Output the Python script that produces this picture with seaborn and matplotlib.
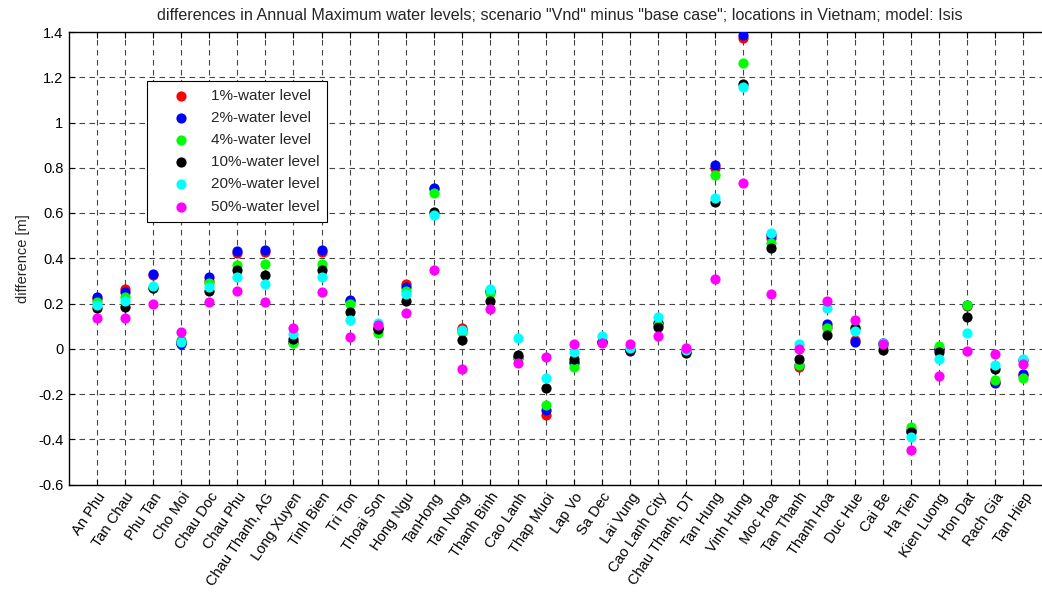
import numpy as np
import pandas as pd
import matplotlib
matplotlib.use("Agg")
import matplotlib.pyplot as plt
import seaborn as sns

locations = [
    "An Phu", "Tan Chau", "Phu Tan", "Cho Moi", "Chau Doc", "Chau Phu",
    "Chau Thanh, AG", "Long Xuyen", "Tinh Bien", "Tri Ton", "Thoai Son",
    "Hong Ngu", "TanHong", "Tan Nong", "Thanh Binh", "Cao Lanh", "Thap Muoi",
    "Lap Vo", "Sa Dec", "Lai Vung", "Cao Lanh City", "Chau Thanh, DT",
    "Tan Hung", "Vinh Hung", "Moc Hoa", "Tan Thanh", "Thanh Hoa", "Duc Hue",
    "Cai Be", "Ha Tien", "Kien Luong", "Hon Dat", "Rach Gia", "Tan Hiep",
]

level_1 = [0.220, 0.263, 0.325, 0.025, 0.300, 0.425, 0.426, 0.030, 0.426, 0.210,
           0.090, 0.285, 0.705, 0.090, 0.255, -0.040, -0.293, -0.065, 0.030, -0.005,
           0.115, -0.010, 0.800, 1.373, 0.491, -0.080, 0.095, 0.038, 0.025, -0.360,
           0.000, 0.190, -0.146, -0.118]
level_2 = [0.228, 0.250, 0.330, 0.019, 0.316, 0.432, 0.437, 0.030, 0.437, 0.215,
           0.090, 0.274, 0.710, 0.085, 0.255, -0.035, -0.271, -0.060, 0.030, -0.012,
           0.112, -0.012, 0.813, 1.388, 0.503, -0.070, 0.109, 0.028, 0.025, -0.365,
           -0.003, 0.195, -0.153, -0.113]
level_4 = [0.207, 0.227, 0.270, 0.038, 0.289, 0.369, 0.373, 0.027, 0.373, 0.200,
           0.071, 0.257, 0.690, 0.072, 0.248, -0.040, -0.249, -0.080, 0.030, 0.000,
           0.105, -0.010, 0.770, 1.265, 0.466, -0.072, 0.090, 0.097, 0.010, -0.345,
           0.013, 0.192, -0.138, -0.131]
level_10 = [0.180, 0.185, 0.267, 0.031, 0.255, 0.348, 0.326, 0.044, 0.348, 0.164,
            0.087, 0.212, 0.605, 0.040, 0.212, -0.029, -0.175, -0.047, 0.028, -0.006,
            0.097, -0.020, 0.650, 1.171, 0.447, -0.046, 0.061, 0.090, -0.006, -0.370,
            -0.013, 0.142, -0.091, -0.050]
level_20 = [0.193, 0.213, 0.277, 0.030, 0.272, 0.317, 0.286, 0.066, 0.317, 0.126,
            0.115, 0.240, 0.589, 0.083, 0.263, 0.046, -0.131, -0.014, 0.058, 0.005,
            0.142, -0.005, 0.668, 1.157, 0.513, 0.021, 0.179, 0.080, 0.027, -0.389,
            -0.047, 0.068, -0.072, -0.044]
level_50 = [0.137, 0.137, 0.196, 0.072, 0.207, 0.255, 0.207, 0.090, 0.250, 0.052,
            0.104, 0.159, 0.347, -0.088, 0.176, -0.062, -0.035, 0.019, 0.024, 0.019,
            0.056, 0.004, 0.307, 0.732, 0.240, -0.003, 0.212, 0.127, 0.019, -0.448,
            -0.121, -0.009, -0.025, -0.068]

series_names = ["1%-water level", "2%-water level", "4%-water level",
                "10%-water level", "20%-water level", "50%-water level"]
series_values = [level_1, level_2, level_4, level_10, level_20, level_50]
series_colors = ["#ff0000", "#0000ff", "#00ff00", "#000000", "#00ffff", "#ff00ff"]

y_ticks = [-0.6, -0.4, -0.2, 0, 0.2, 0.4, 0.6, 0.8, 1, 1.2, 1.4]

sns.set_theme(style="white")
plt.rcParams["font.family"] = ["Liberation Sans", "DejaVu Sans"]

W, H = 1042, 592
fig = plt.figure(figsize=(W / 100, H / 100), dpi=100)

# axes box in pixels: left 68.9, right 1051.4 (runs past the right edge), top 32, bottom 484.5
ax_left, ax_right, ax_top, ax_bottom = 68.9, 1051.4, 32.0, 484.5
ax = fig.add_axes([ax_left / W, (H - ax_bottom) / H,
                   (ax_right - ax_left) / W, (ax_bottom - ax_top) / H])

x_pos = np.arange(1, len(locations) + 1)
frames = []
for name, vals in zip(series_names, series_values):
    frames.append(pd.DataFrame({"pos": x_pos, "diff": vals, "series": name}))
df = pd.concat(frames, ignore_index=True)

for name, color in zip(series_names, series_colors):
    sub = df[df["series"] == name]
    sns.scatterplot(data=sub, x="pos", y="diff", color=color, s=54,
                    linewidth=0, label=name, ax=ax, zorder=3)

tick_fs = 10.5
ax.set_xlim(0, 35)
ax.set_ylim(-0.6, 1.4)
ax.set_xticks(x_pos)
ax.set_xticklabels(locations, rotation=56, ha="right", va="top",
                   rotation_mode="anchor", fontsize=tick_fs)
ax.set_yticks(y_ticks)
ax.set_yticklabels([f"{v:g}" for v in y_ticks], fontsize=tick_fs)
ax.set_xlabel("")
ax.set_ylabel("difference [m]", fontsize=tick_fs, labelpad=6)
ax.set_title('differences in Annual Maximum water levels; scenario "Vnd" minus '
             '"base case"; locations in Vietnam; model: Isis', fontsize=11.6, pad=9)

ax.grid(True, color="#454545", linestyle=(0, (5, 4)), linewidth=0.8)
ax.set_axisbelow(True)
for side in ["left", "right", "top", "bottom"]:
    ax.spines[side].set_visible(True)
    ax.spines[side].set_color("black")
    ax.spines[side].set_linewidth(1.0)
ax.tick_params(axis="both", which="major", direction="in", length=4, width=0.8,
               color="black", top=True, right=True, bottom=True, left=True,
               labelcolor="black", pad=4)
ax.set_facecolor("white")

leg_fs = 11
leg = ax.legend(loc="upper left", bbox_to_anchor=((147 - ax_left) / (ax_right - ax_left),
                                                  (ax_bottom - 81) / (ax_bottom - ax_top)),
                borderaxespad=0, fontsize=leg_fs, frameon=True, fancybox=False,
                framealpha=1, edgecolor="black", handlelength=3.4,
                handletextpad=0.25, labelspacing=0.53, borderpad=0.53,
                markerscale=1.0)
leg.get_frame().set_linewidth(0.8)

fig.savefig("out.png", dpi=100, facecolor="white")
